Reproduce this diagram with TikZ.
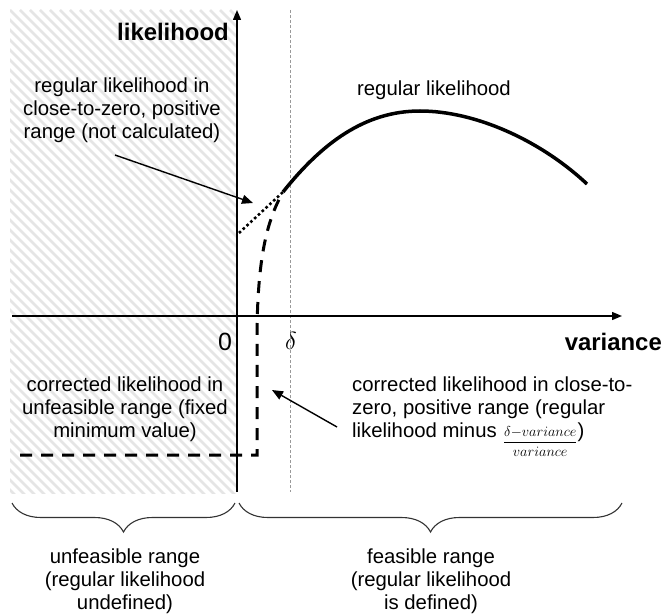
\documentclass[tikz,border=0pt]{standalone}
\usepackage{fontspec}
\setmainfont{Liberation Sans}
\usetikzlibrary{arrows.meta,decorations.pathreplacing}
\begin{document}
\begin{tikzpicture}[x=1bp,y=-1bp,
  txt/.style={font=\fontsize{20.4}{23}\selectfont, inner sep=0pt, align=center},
  boldlbl/.style={font=\fontsize{24}{28}\selectfont\bfseries, inner sep=0pt},
  biglbl/.style={font=\fontsize{25}{28}\selectfont, inner sep=0pt},
  axisline/.style={line width=1.4bp, -{Triangle[length=10bp,width=8bp]}},
  ptr/.style={line width=1.4bp, -{Triangle[length=11bp,width=9bp]}},
  hatchline/.style={gray!20, line width=2.5bp},
  guide/.style={gray!80, line width=0.7bp, dash pattern=on 3bp off 2bp},
  solidcurve/.style={line width=3.5bp},
  dashcurve/.style={line width=3bp, dash pattern=on 12bp off 9bp},
  dotcurve/.style={line width=2.6bp, dash pattern=on 2.6bp off 2.6bp},
  bracestyle/.style={black!80, line width=1.1bp, decorate, decoration={brace, mirror, amplitude=29bp}}]
\useasboundingbox (0,0) rectangle (664,615);
% hatched unfeasible area
\begin{scope}
  \clip (10,10) rectangle (237,493);
  \foreach \i in {-500,-490,...,240} \draw[hatchline] (\i,10) -- ++(500,500);
\end{scope}
% guide line at delta
\coordinate (gtop) at (290,10);
\coordinate (gbot) at (290,492);
\draw[guide] (gtop) -- (gbot);
% axes
\coordinate (ybot) at (237,492);
\coordinate (ytop) at (237,10);
\coordinate (xl) at (12,316);
\coordinate (xr) at (622,316);
\draw[axisline] (ybot) -- (ytop);
\draw[axisline] (xl) -- (xr);
% curves
\coordinate (j) at (283,192);
\coordinate (pk) at (420,111);
\coordinate (ce) at (587,184);
\draw[solidcurve] (j) .. controls (322,143) and (365,111) .. (pk)
                      .. controls (475,111) and (540,140) .. (ce);
\coordinate (ds) at (239,233);
\draw[dotcurve] (ds) -- (j);
\coordinate (hl) at (20,455);
\coordinate (hc) at (257,455);
\coordinate (vc) at (257,330);
\draw[dashcurve] (hl) -- (hc) -- (vc) .. controls (258,260) and (266,222) .. (j);
% labels
\node[boldlbl, anchor=east] (ylab) at (229,32) {likelihood};
\node[boldlbl, anchor=east] (xlab) at (662,342) {variance};
\node[biglbl] (zero) at (225,342) {0};
\node[biglbl, font=\fontsize{30}{32}\selectfont] (delta) at (291,341) {$\delta$};
\node[txt] (reg) at (434,90) {regular likelihood};
\node[txt] (rnc) at (122,110) {regular likelihood in\\close-to-zero, positive\\range (not calculated)};
\node[txt] (cun) at (125,409) {corrected likelihood in\\unfeasible range (fixed\\minimum value)};
\node[txt, align=left, anchor=west] (cpos) at (352,409) {corrected likelihood in close-to-\\zero, positive range (regular\\likelihood minus\hspace{6bp}\smash{\raisebox{-9bp}{\fontsize{15.5}{18}\selectfont$\displaystyle\frac{\delta{-}variance}{variance}$}})};
\node[txt] (unf) at (125,581) {unfeasible range\\(regular likelihood\\undefined)};
\node[txt] (fea) at (431,581) {feasible range\\(regular likelihood\\is defined)};
% pointers
\coordinate (a1s) at (115,155);
\coordinate (a1e) at (253,203);
\draw[ptr] (a1s) -- (a1e);
\coordinate (a2s) at (337,427);
\coordinate (a2e) at (272,390);
\draw[ptr] (a2s) -- (a2e);
% braces
\coordinate (b1l) at (12,503);
\coordinate (b1r) at (235,503);
\coordinate (b2l) at (239,503);
\coordinate (b2r) at (622,503);
\draw[bracestyle] (b1l) -- (b1r);
\draw[bracestyle] (b2l) -- (b2r);
\end{tikzpicture}
\end{document}
